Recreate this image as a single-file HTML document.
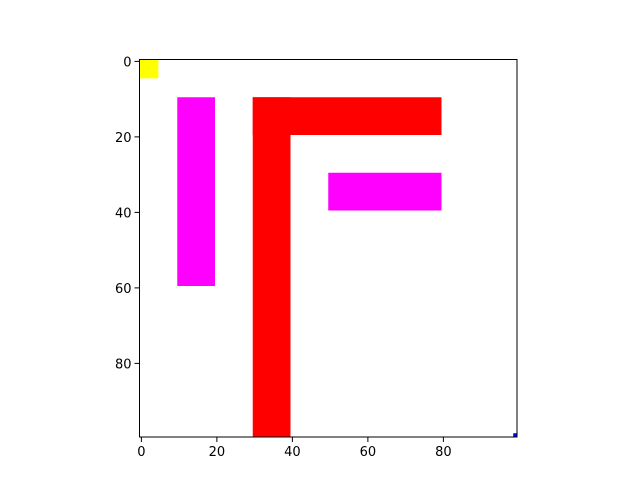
<!DOCTYPE html>
<html><head><meta charset="utf-8"><style>
html,body{margin:0;padding:0;background:#fff;}
svg{display:block;font-family:"DejaVu Sans","Liberation Sans",sans-serif;}
</style></head><body>
<svg id="chart" width="640" height="491" viewBox="0 0 640 491" xmlns="http://www.w3.org/2000/svg">
<rect width="640" height="491" fill="#fff"/>
<g id="cells"></g>
<g id="axes"></g>
</svg>
<script>
const rectCols = [0, 10, 30, 30, 50, 99];
const rectRows = [0, 10, 10, 10, 30, 99];
const rectWidths = [5, 10, 50, 10, 30, 1];
const rectHeights = [5, 50, 10, 90, 10, 1];
const rectColors = ['#ffff00', '#ff00ff', '#ff0000', '#ff0000', '#ff00ff', '#0000ff'];
const rectNames = ['yellow-square', 'magenta-vertical-bar', 'red-horizontal-bar', 'red-vertical-bar', 'magenta-horizontal-bar', 'blue-pixel'];
const xTicks = [0, 20, 40, 60, 80];
const yTicks = [0, 20, 40, 60, 80];
const gridSize = 100;

const NS = 'http://www.w3.org/2000/svg';
const axLeft = 139.5, axTop = 59.5, axSize = 377.5;
const cellSize = axSize / gridSize;
const xScale = c => axLeft + (c + 0.5) * cellSize;
const yScale = r => axTop + (r + 0.5) * cellSize;
function mk(tag, attrs, parent) {
  const e = document.createElementNS(NS, tag);
  for (const k in attrs) e.setAttribute(k, attrs[k]);
  parent.appendChild(e);
  return e;
}
const cellsG = document.getElementById('cells');
const axesG = document.getElementById('axes');
rectCols.forEach((c, i) => {
  const r = mk('rect', {x: xScale(c - 0.5), y: yScale(rectRows[i] - 0.5), width: rectWidths[i] * cellSize, height: rectHeights[i] * cellSize, fill: rectColors[i]}, cellsG);
  
  
});
const frame = mk('rect', {x: axLeft, y: axTop, width: axSize, height: axSize, fill: 'none', stroke: '#000', 'stroke-width': 1}, axesG);


xTicks.forEach(t => {
  const x = xScale(t);
  const tk = mk('line', {x1: x, x2: x, y1: axTop + axSize, y2: axTop + axSize + 5, stroke: '#000', 'stroke-width': 1}, axesG);
  
  
  const tx = mk('text', {x: x, y: axTop + axSize + 19, 'text-anchor': 'middle', 'font-size': 13, fill: '#000'}, axesG);
  tx.textContent = t;
  
  
});
yTicks.forEach(t => {
  const y = yScale(t);
  const tk = mk('line', {x1: axLeft - 5, x2: axLeft, y1: y, y2: y, stroke: '#000', 'stroke-width': 1}, axesG);
  
  
  const tx = mk('text', {x: axLeft - 8, y: y + 5, 'text-anchor': 'end', 'font-size': 13, fill: '#000'}, axesG);
  tx.textContent = t;
  
  
});
</script>
</body></html>
